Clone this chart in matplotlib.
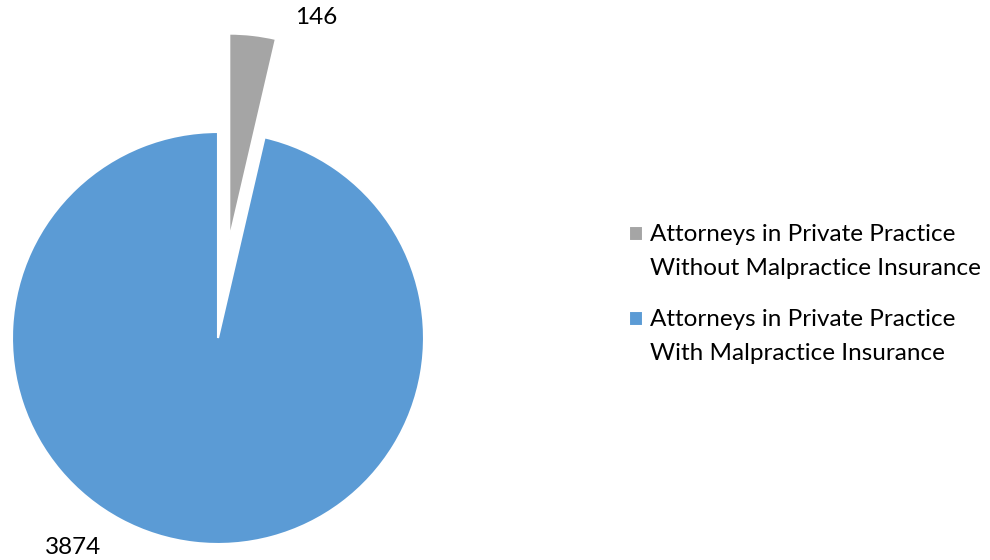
import matplotlib.pyplot as plt
from matplotlib.patches import Rectangle
from matplotlib.legend_handler import HandlerPatch

# data
categories = ['Attorneys in Private Practice\nWithout Malpractice Insurance',
              'Attorneys in Private Practice\nWith Malpractice Insurance']
values = [146, 3874]
colors = ['#A5A5A5', '#5B9BD5']
value_labels = [str(v) for v in values]

plt.rcParams['font.family'] = ['Lato', 'DejaVu Sans']
FS = 17.5

fig = plt.figure(figsize=(9.9, 5.6), dpi=100)
ax = fig.add_axes([0, 0, 1, 1])

# pie in pixel units: center (218, 338 from top), radius 206
wedges, _ = ax.pie(values, colors=colors, startangle=90, counterclock=False,
                   center=(218, 560 - 338), radius=206, explode=[99, 0],
                   wedgeprops=dict(edgecolor='white', linewidth=1.5),
                   frame=True)
ax.set_xlim(0, 990)
ax.set_ylim(0, 560)
ax.set_aspect('equal')
ax.axis('off')

# data labels (outside end, as in the original)
ax.text(316, 560 - 18, value_labels[0], fontsize=FS, ha='center', va='center')
ax.text(73, 560 - 548, value_labels[1], fontsize=FS, ha='center', va='center')


# legend square next to the first line of each two-line label
def top_square(legend, orig_handle, xdescent, ydescent, width, height, fontsize):
    return Rectangle((-xdescent, -ydescent + 13), width, height)


leg = ax.legend(wedges, categories, loc='center left', bbox_to_anchor=(607 / 990, 1 - 294 / 560),
                frameon=False, fontsize=FS, handlelength=0.58, handleheight=0.58,
                handletextpad=0.3, labelspacing=1.23,
                handler_map={w: HandlerPatch(patch_func=top_square) for w in wedges})
for t in leg.get_texts():
    t.set_linespacing(1.76)

plt.savefig('out.png', dpi=100)
